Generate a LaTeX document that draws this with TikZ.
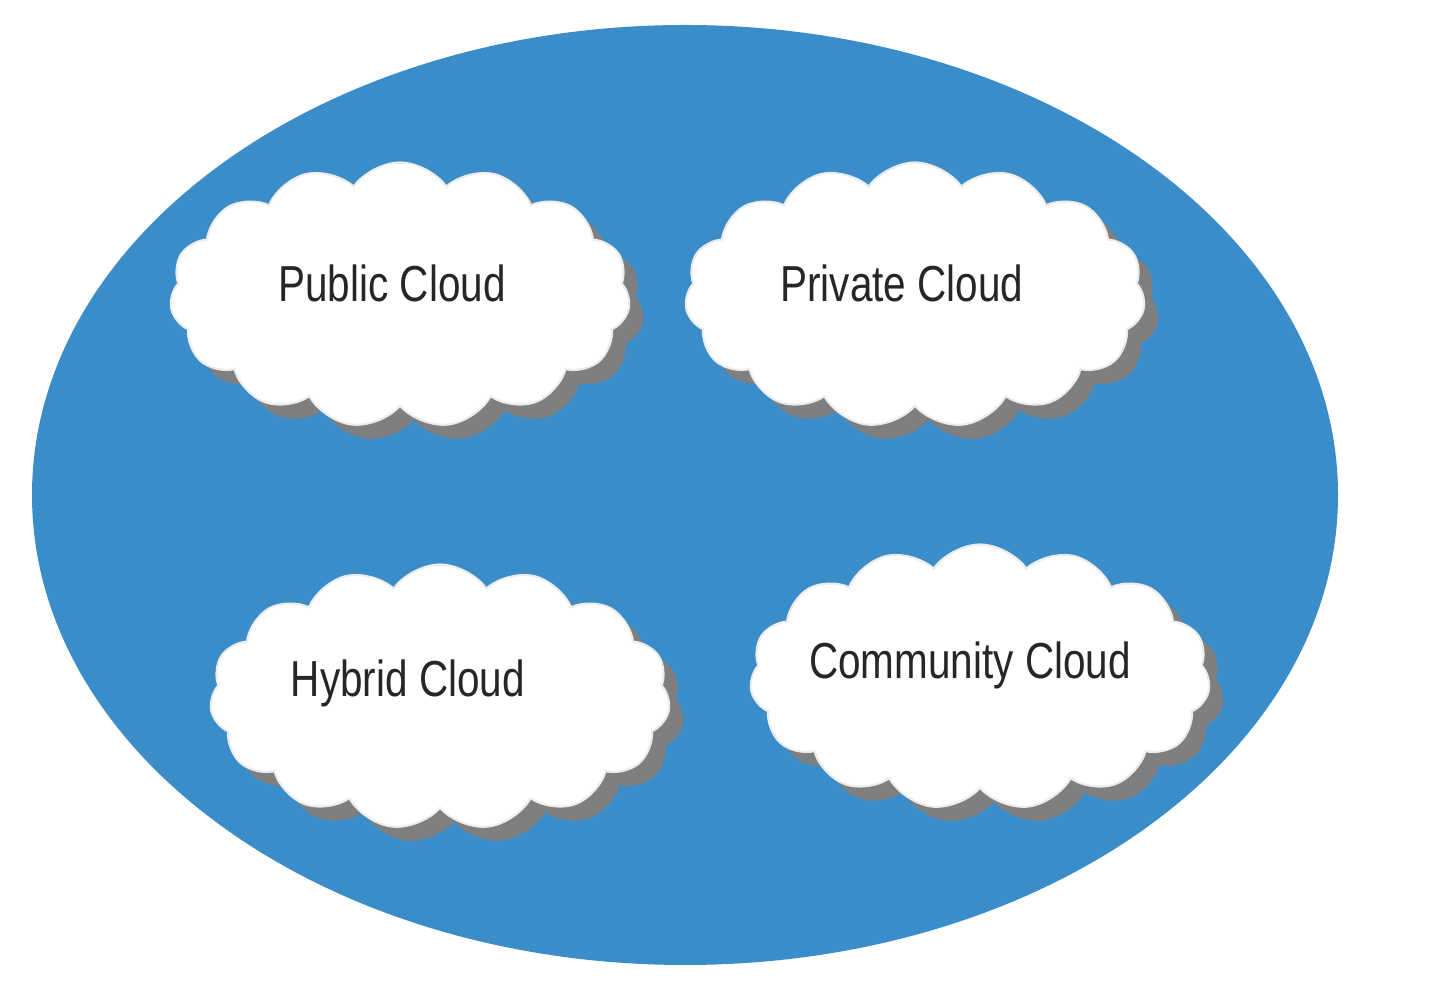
\documentclass[tikz,border=0pt]{standalone}
\usepackage{fontspec}
\setmainfont[FakeStretch=0.8]{Liberation Sans}
\usetikzlibrary{shapes.symbols,shapes.geometric,shadows}
\definecolor{bigblue}{HTML}{3A8DC8}
\definecolor{shadowgray}{HTML}{7F7F7F}
\tikzset{
  cloudbox/.style={cloud, cloud puffs=15, cloud puff arc=110, aspect=1.8,
    fill=white, draw=white!85!gray, line width=0.6pt,
    minimum width=4.6cm, minimum height=2.65cm, inner sep=0pt,
    drop shadow={shadow xshift=0.14cm, shadow yshift=-0.14cm, fill=shadowgray, opacity=1}},
  cloudtext/.style={font=\fontsize{14.4}{17}\selectfont, text=black!85, inner sep=0pt}
}
\begin{document}
\begin{tikzpicture}
\useasboundingbox (0,0) rectangle (14.40,9.93);
\fill[white] (0,0) rectangle (14.40,9.93);
\node[ellipse, fill=bigblue, minimum width=13.06cm, minimum height=9.40cm, inner sep=0pt] (oval) at (6.85,4.98) {};
\node[cloudbox] (public) at (4.00,6.98) {};
\node[cloudbox] (private) at (9.15,6.98) {};
\node[cloudbox] (hybrid) at (4.40,2.96) {};
\node[cloudbox] (community) at (9.80,3.16) {};
\node[cloudtext] (publict) at (3.92,7.10) {Public Cloud};
\node[cloudtext] (privatet) at (9.02,7.10) {Private Cloud};
\node[cloudtext] (hybridt) at (4.08,3.10) {Hybrid Cloud};
\node[cloudtext] (communityt) at (9.70,3.28) {Community Cloud};
\end{tikzpicture}
\end{document}
